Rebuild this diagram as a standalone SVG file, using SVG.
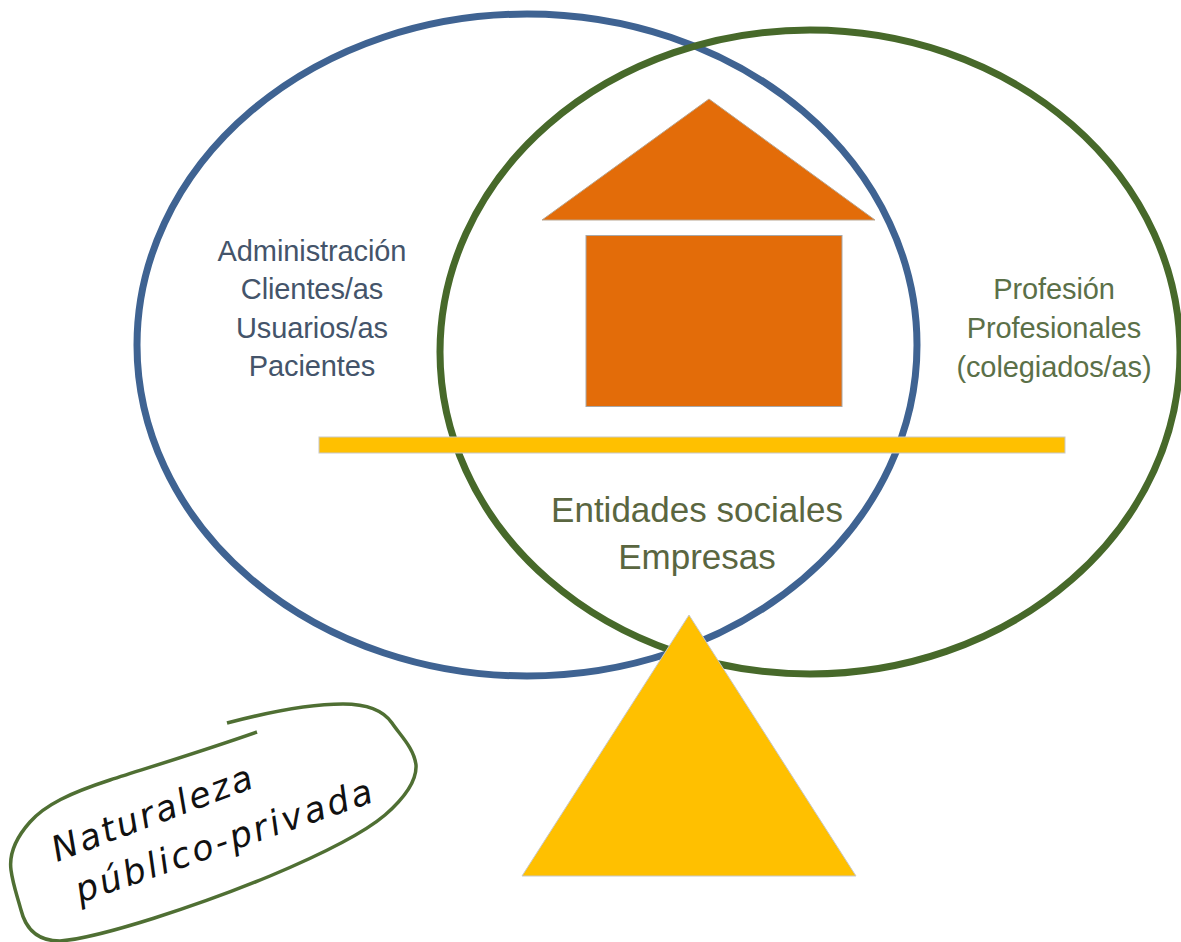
<svg xmlns="http://www.w3.org/2000/svg" width="1181" height="942" viewBox="0 0 1181 942">
<style>
.t{font-family:"Liberation Sans",Arial,sans-serif;text-anchor:middle}
.b{fill:#44546a;font-size:29px;letter-spacing:-0.1px}
.g{fill:#5b7048;font-size:29px;letter-spacing:-0.1px}
.e{fill:#5a6640;font-size:35px}
.h{font-family:"DejaVu Sans",sans-serif;font-style:italic;font-size:35px;fill:#111}
</style>
<rect width="1181" height="942" fill="#fff"/>
<g id="connectors"></g>
<g id="house-roof"><polygon points="709,99 875,220 542,220" fill="#e36c09" stroke="#b9a58f" stroke-width="1"/></g>
<g id="house-body"><rect x="586" y="235.500" width="256" height="171" fill="#e36c09" stroke="#a8a8a8" stroke-width="1"/></g>
<g id="circle-blue"><ellipse cx="527" cy="345" rx="390" ry="331" fill="none" stroke="#3f6392" stroke-width="7"/></g>
<g id="circle-green"><ellipse cx="810" cy="352" rx="370" ry="322" fill="none" stroke="#47692a" stroke-width="7"/></g>
<g id="beam"><rect x="319" y="437" width="746" height="16" fill="#ffc000" stroke="#c8c8c8" stroke-width="1"/></g>
<g id="fulcrum"><polygon points="689,615 856,876 522,876" fill="#ffc000" stroke="#c8c8c8" stroke-width="1"/></g>
<g id="label-left"><text class="t b" x="312" y="261">Administración</text><text class="t b" x="312" y="299">Clientes/as</text><text class="t b" x="312" y="338">Usuarios/as</text><text class="t b" x="312" y="376">Pacientes</text></g>
<g id="label-right"><text class="t g" x="1054" y="299">Profesión</text><text class="t g" x="1054" y="338">Profesionales</text><text class="t g" x="1054" y="377">(colegiados/as)</text></g>
<g id="label-center"><text class="t e" x="697" y="522">Entidades sociales</text><text class="t e" x="697" y="569">Empresas</text></g>
<g id="note"><path d="M257,732 C200,752 150,767 110,780 C70,793 45,805 30,822 C14,840 9,855 11,870 C13,885 17,895 21,910 C26,930 38,941 60,941 C100,938 200,905 270,876 C320,855 365,832 385,815 C402,800 417,782 416,765 C414,748 400,735 392,723 C383,710 365,704 343,704 C305,704 265,713 227,723" fill="none" stroke="#4f6f33" stroke-width="3.500"/>
<text class="h" transform="translate(57,862) rotate(-20.700)" textLength="212" lengthAdjust="spacing">Naturaleza</text>
<text class="h" transform="translate(80,903) rotate(-19)" textLength="312" lengthAdjust="spacing">público-privada</text></g>
</svg>
